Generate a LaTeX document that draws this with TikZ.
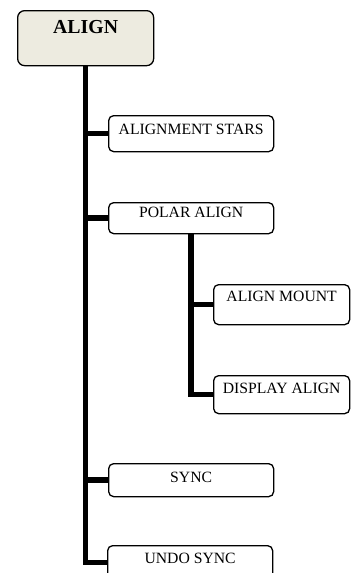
\documentclass[tikz,border=0pt]{standalone}
\usepackage{fontspec}
\setmainfont{Liberation Serif}
\usetikzlibrary{positioning,backgrounds}
\definecolor{menuBeige}{HTML}{EDEBE0}
\definecolor{menuLinea}{HTML}{000000}

\begin{document}
\begin{tikzpicture}[x=1pt, y=-1pt,
      m/.style={rounded corners=5pt, draw=menuLinea, line width=1.3pt, fill=white,
                inner sep=0pt, anchor=north west, align=center,
                font=\fontsize{15.7}{18}\selectfont},
      ancho/.style={minimum width=165pt},
      corto/.style={minimum width=136pt},
      stem/.style={line width=5.5pt, draw=menuLinea}]
    \useasboundingbox (0,0) rectangle (354,573);
    \clip (0,0) rectangle (354,573);
    \node[m, corto, fill=menuBeige, rounded corners=7pt, font=\fontsize{19.8}{22}\selectfont\bfseries,
          text height=23pt, text depth=32pt] (align) at (17,10) {ALIGN};
    \node[m, ancho, text height=19pt, text depth=17pt] (stars)   at (108,115) {ALIGNMENT STARS};
    \node[m, ancho, text height=15pt, text depth=16pt] (polar)   at (108,202) {POLAR ALIGN};
    \node[m, corto, text height=17pt, text depth=23pt] (mount)   at (213,284) {ALIGN MOUNT};
    \node[m, corto, text height=18pt, text depth=20pt] (display) at (213,375) {DISPLAY ALIGN};
    \node[m, ancho, text height=19pt, text depth=14pt] (sync)    at (108,463) {SYNC};
    \node[m, ancho, text height=18pt, text depth=16pt] (undo)    at (107,545) {UNDO SYNC};
    \begin{scope}[on background layer]
      \draw[stem] (align.south) |- (undo.west);
      \foreach \n in {stars,polar,sync}
        \draw[stem] (align.south |- \n.west) -- (\n.west);
      \draw[stem] (polar.south) |- (display.west);
      \draw[stem] (polar.south |- mount.west) -- (mount.west);
    \end{scope}
  \end{tikzpicture}
\end{document}
